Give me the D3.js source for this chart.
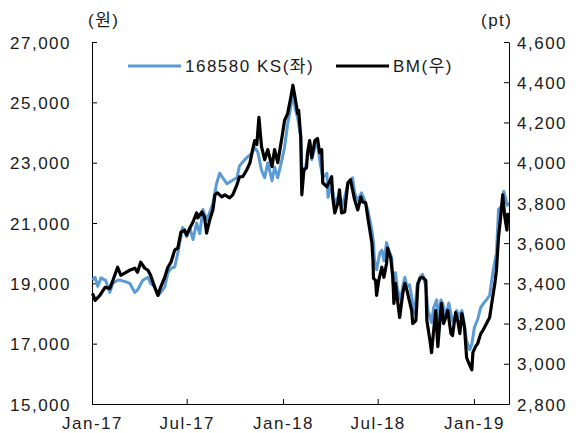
<!DOCTYPE html>
<html>
<head>
<meta charset="utf-8">
<script src="https://cdn.jsdelivr.net/npm/d3@7"></script>
<style>
html,body{margin:0;padding:0;background:#fff;}
svg{display:block;}
text{font-family:"Liberation Sans","Noto Sans CJK KR",sans-serif;font-size:17px;letter-spacing:1.5px;fill:#1a1a1a;}
</style>
</head>
<body>
<svg id="chart" width="576" height="433"></svg>
<script>
// ---- data ----
const xTickLabels = ["Jan-17","Jul-17","Jan-18","Jul-18","Jan-19"];
const xTickDates = ["2017-01-01","2017-07-01","2018-01-01","2018-07-01","2019-01-01"];
const leftTicks = [15000,17000,19000,21000,23000,25000,27000];
const rightTicks = [2800,3000,3200,3400,3600,3800,4000,4200,4400,4600];
const seriesNames = ["168580 KS(좌)","BM(우)"];

const ksDates = ["2017-01-02","2017-01-07","2017-01-12","2017-01-18","2017-01-27","2017-02-04","2017-02-10","2017-02-19","2017-02-25","2017-03-07","2017-03-14","2017-03-24","2017-03-29","2017-04-08","2017-04-18","2017-04-23","2017-05-01","2017-05-07","2017-05-12","2017-05-20","2017-05-26","2017-06-01","2017-06-08","2017-06-14","2017-06-20","2017-06-23","2017-07-01","2017-07-07","2017-07-13","2017-07-20","2017-07-26","2017-08-01","2017-08-08","2017-08-14","2017-08-20","2017-08-27","2017-09-02","2017-09-08","2017-09-16","2017-09-25","2017-10-05","2017-10-10","2017-10-20","2017-10-26","2017-11-02","2017-11-08","2017-11-14","2017-11-21","2017-11-27","2017-12-03","2017-12-11","2017-12-16","2017-12-22","2017-12-30","2018-01-04","2018-01-10","2018-01-16","2018-01-20","2018-01-25","2018-01-29","2018-02-04","2018-02-06","2018-02-12","2018-02-17","2018-02-21","2018-02-25","2018-03-03","2018-03-08","2018-03-12","2018-03-18","2018-03-26","2018-03-28","2018-04-04","2018-04-10","2018-04-16","2018-04-23","2018-04-29","2018-05-05","2018-05-14","2018-05-18","2018-05-24","2018-05-31","2018-06-06","2018-06-12","2018-06-20","2018-06-23","2018-06-25","2018-06-29","2018-07-05","2018-07-09","2018-07-13","2018-07-18","2018-07-22","2018-07-28","2018-07-30","2018-08-04","2018-08-08","2018-08-14","2018-08-18","2018-08-22","2018-08-26","2018-08-31","2018-09-06","2018-09-10","2018-09-14","2018-09-20","2018-09-25","2018-10-01","2018-10-05","2018-10-12","2018-10-16","2018-10-22","2018-10-24","2018-10-30","2018-11-02","2018-11-08","2018-11-14","2018-11-20","2018-11-23","2018-11-29","2018-12-03","2018-12-09","2018-12-12","2018-12-18","2018-12-24","2018-12-28","2019-01-02","2019-01-08","2019-01-14","2019-01-20","2019-01-27","2019-01-31","2019-02-04","2019-02-08","2019-02-13","2019-02-17","2019-02-23","2019-02-27","2019-03-05","2019-03-07"];
const ksValues = [19100,19200,18900,19180,19100,18700,19000,19100,19100,19050,19000,18700,18780,19100,19200,19000,18880,18600,18680,18880,19340,19500,19540,20000,20550,20850,20550,20850,20450,21000,20650,21450,21100,21350,21650,22300,22650,22500,22300,22400,22500,22900,23100,23200,23300,23500,23350,22750,22500,23000,22400,22850,22500,23100,23500,24300,24850,25300,24750,24500,23850,22850,22750,23200,23650,23100,23500,23650,23100,22500,22650,21850,22300,21650,21850,21550,21850,22300,22500,22000,21750,22000,21750,21450,20750,20350,19750,19450,20000,20100,19750,20350,20100,19850,19000,19350,18800,18450,18900,19200,18900,18950,18350,18000,18900,19200,19300,18900,18100,17700,18200,18450,17800,18450,18350,17900,18350,17800,17700,18100,17900,18100,17800,17100,16800,17000,17550,17800,18200,18350,18500,18600,19100,19550,20000,21450,21550,22050,21650,21550];

const bmDates = ["2017-01-02","2017-01-07","2017-01-16","2017-01-26","2017-02-04","2017-02-10","2017-02-19","2017-02-25","2017-03-07","2017-03-14","2017-03-24","2017-03-29","2017-04-04","2017-04-12","2017-04-18","2017-04-23","2017-05-01","2017-05-07","2017-05-12","2017-05-20","2017-05-26","2017-06-01","2017-06-08","2017-06-14","2017-06-20","2017-06-27","2017-07-01","2017-07-07","2017-07-13","2017-07-20","2017-07-22","2017-07-30","2017-08-04","2017-08-08","2017-08-14","2017-08-20","2017-08-24","2017-08-29","2017-09-06","2017-09-12","2017-09-21","2017-09-27","2017-10-05","2017-10-10","2017-10-16","2017-10-24","2017-10-30","2017-11-04","2017-11-08","2017-11-12","2017-11-16","2017-11-21","2017-11-27","2017-12-03","2017-12-11","2017-12-16","2017-12-22","2017-12-30","2018-01-04","2018-01-10","2018-01-16","2018-01-20","2018-01-25","2018-01-29","2018-01-31","2018-02-04","2018-02-06","2018-02-10","2018-02-15","2018-02-17","2018-02-21","2018-02-25","2018-03-03","2018-03-08","2018-03-12","2018-03-16","2018-03-18","2018-03-26","2018-03-28","2018-04-04","2018-04-06","2018-04-10","2018-04-16","2018-04-19","2018-04-23","2018-04-29","2018-05-05","2018-05-10","2018-05-14","2018-05-18","2018-05-24","2018-05-30","2018-06-02","2018-06-08","2018-06-12","2018-06-20","2018-06-22","2018-06-23","2018-06-27","2018-06-29","2018-07-03","2018-07-09","2018-07-13","2018-07-18","2018-07-20","2018-07-26","2018-07-30","2018-08-01","2018-08-04","2018-08-08","2018-08-12","2018-08-18","2018-08-22","2018-08-26","2018-08-29","2018-09-04","2018-09-06","2018-09-12","2018-09-16","2018-09-20","2018-09-25","2018-10-01","2018-10-03","2018-10-09","2018-10-12","2018-10-16","2018-10-20","2018-10-24","2018-10-28","2018-10-31","2018-11-04","2018-11-08","2018-11-12","2018-11-18","2018-11-21","2018-11-27","2018-12-01","2018-12-05","2018-12-09","2018-12-14","2018-12-18","2018-12-22","2018-12-28","2018-12-30","2019-01-04","2019-01-08","2019-01-14","2019-01-18","2019-01-25","2019-01-31","2019-02-04","2019-02-10","2019-02-13","2019-02-17","2019-02-21","2019-02-25","2019-03-01","2019-03-05","2019-03-07"];
const bmValues = [3350,3315,3340,3380,3375,3415,3480,3440,3455,3465,3475,3455,3505,3475,3465,3440,3380,3340,3380,3430,3480,3505,3565,3575,3655,3665,3640,3675,3705,3750,3725,3755,3730,3650,3715,3765,3840,3850,3830,3840,3825,3840,3890,3930,3930,3965,4000,4065,4110,4090,4225,4080,4015,4065,3980,4065,4000,4125,4210,4245,4325,4385,4310,4245,4260,4125,3840,3965,3975,4050,4110,4025,4110,4120,4050,4065,3900,3880,3890,3930,3830,3750,3800,3865,3750,3755,3900,3915,3865,3815,3765,3830,3805,3800,3730,3600,3515,3425,3415,3340,3415,3480,3430,3500,3575,3525,3430,3300,3400,3315,3230,3350,3400,3365,3330,3265,3200,3215,3400,3425,3430,3415,3215,3115,3055,3165,3265,3085,3215,3300,3200,3230,3265,3150,3140,3255,3215,3150,3250,3180,3030,3005,2970,3055,3085,3100,3150,3165,3200,3230,3300,3400,3465,3630,3730,3840,3730,3665,3750];

// ---- chart ----
const parse = d3.timeParse("%Y-%m-%d");
const svg = d3.select("#chart");
const L = 92, R = 509, T = 42, B = 404;

const x = d3.scaleTime().domain([parse("2017-01-01"), parse("2019-03-09")]).range([L, R]);
const yL = d3.scaleLinear().domain([15000, 27000]).range([B, T]);
const yR = d3.scaleLinear().domain([2800, 4600]).range([B, T]);

const fmt = d3.format(",");

// axes
const gx = svg.append("g").attr("transform", `translate(0,${B})`)
  .call(d3.axisBottom(x).tickValues(xTickDates.map(parse))
    .tickFormat((d, i) => xTickLabels[i]).tickSizeInner(-5).tickSizeOuter(0).tickPadding(13));
const gl = svg.append("g").attr("transform", `translate(${L},0)`)
  .call(d3.axisLeft(yL).tickValues(leftTicks).tickFormat(fmt).tickSizeInner(-5).tickSizeOuter(0).tickPadding(21));
const gr = svg.append("g").attr("transform", `translate(${R},0)`)
  .call(d3.axisRight(yR).tickValues(rightTicks).tickFormat(fmt).tickSizeInner(-5).tickSizeOuter(0).tickPadding(8));

[gx, gl, gr].forEach(g => {
  g.selectAll("path.domain").attr("stroke", "#000").attr("stroke-width", 1);
  g.selectAll(".tick line").attr("stroke", "#000").attr("stroke-width", 1);
  g.selectAll("text").attr("font-size", null).attr("font-family", null).attr("fill", "#1a1a1a");
});
gl.selectAll("text").attr("dy", "0.36em");
gr.selectAll("text").attr("dy", "0.36em");

// unit labels
svg.append("text").attr("x", 88).attr("y", 26).text("(원)");
svg.append("text").attr("x", 481).attr("y", 26).text("(pt)");

// lines
const ksData = ksDates.map((d, i) => ({date: parse(d), v: ksValues[i]}));
const bmData = bmDates.map((d, i) => ({date: parse(d), v: bmValues[i]}));

svg.append("path").datum(ksData)
  .attr("fill", "none").attr("stroke", "#5b9bd5").attr("stroke-width", 3)
  .attr("stroke-linejoin", "round")
  .attr("d", d3.line().x(d => x(d.date)).y(d => yL(d.v)));
svg.append("path").datum(bmData)
  .attr("fill", "none").attr("stroke", "#000").attr("stroke-width", 3.2)
  .attr("stroke-linejoin", "round")
  .attr("d", d3.line().x(d => x(d.date)).y(d => yR(d.v)));

// legend
const lg = svg.append("g");
lg.append("line").attr("x1", 128).attr("x2", 181).attr("y1", 66).attr("y2", 66)
  .attr("stroke", "#5b9bd5").attr("stroke-width", 3);
lg.append("text").attr("x", 185).attr("y", 72).text(seriesNames[0]);
lg.append("line").attr("x1", 336).attr("x2", 389).attr("y1", 66).attr("y2", 66)
  .attr("stroke", "#000").attr("stroke-width", 3.2);
lg.append("text").attr("x", 393).attr("y", 72).text(seriesNames[1]);
</script>
</body>
</html>
